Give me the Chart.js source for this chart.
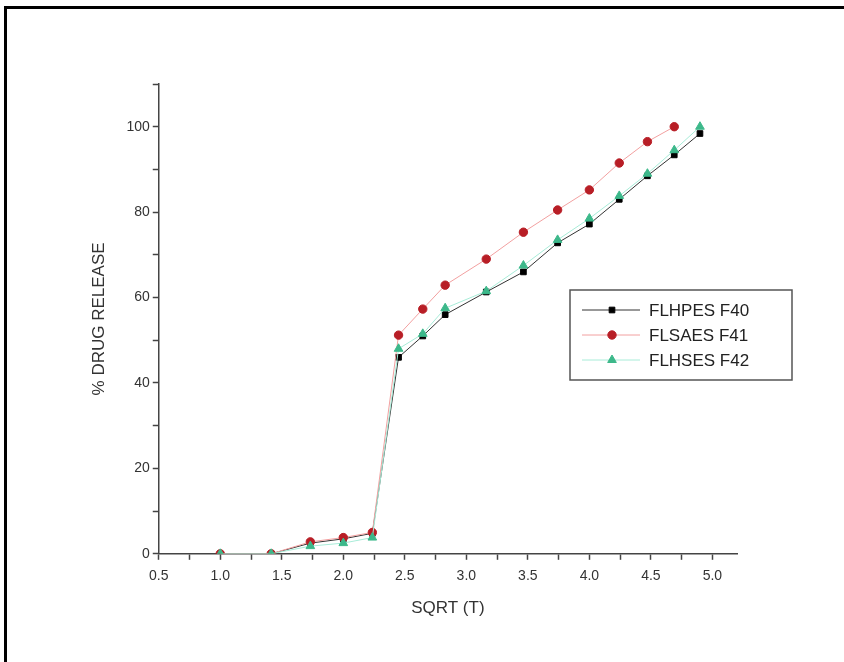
<!DOCTYPE html>
<html>
<head>
<meta charset="utf-8">
<script src="https://cdn.jsdelivr.net/npm/chart.js@4"></script>
<style>
  html, body { margin: 0; padding: 0; background: #fff; overflow: hidden; }
  #wrap { position: relative; width: 844px; height: 662px; }
  #frame { position: absolute; left: 4px; top: 6px; width: 900px; height: 700px;
           border-top: 3px solid #000; border-left: 3px solid #000; }
  canvas { position: absolute; left: 0; top: 0; }
</style>
</head>
<body>
<div id="wrap">
  <div id="frame"></div>
  <canvas id="myChart" width="844" height="662"></canvas>
</div>
<script>
// x = square root of time
var sqrtT = [1.0, 1.414, 1.732, 2.0, 2.236, 2.449, 2.646, 2.828, 3.162, 3.464, 3.742, 4.0, 4.243, 4.472, 4.690, 4.899];

var f40 = [0, 0, 2.5, 3.5, 4.8, 46, 51, 56, 61.3, 66, 72.8, 77.2, 83, 88.5, 93.4, 98.4];
var f41 = [0, 0, 2.8, 3.8, 5, 51.2, 57.3, 62.9, 69, 75.3, 80.5, 85.2, 91.5, 96.5, 100];
var f42 = [0, 0, 1.8, 2.5, 3.8, 48, 51.5, 57.5, 61.5, 67.5, 73.5, 78.5, 83.8, 89, 94.5, 100];

var seriesNames = ["FLHPES F40", "FLSAES F41", "FLHSES F42"];

function pts(ys) {
    return ys.map(function (y, i) { return { x: sqrtT[i], y: y }; });
}

// legend box drawn inside the plot like the original
var boxLegend = {
    id: 'boxLegend',
    afterDraw: function (chart) {
        var ctx = chart.ctx;
        var x0 = 570, y0 = 290, w = 222, h = 90;
        ctx.save();
        ctx.strokeStyle = '#555';
        ctx.lineWidth = 1.5;
        ctx.strokeRect(x0, y0, w, h);
        chart.data.datasets.forEach(function (ds, i) {
            var yy = y0 + 20 + i * 25;
            ctx.strokeStyle = ds.borderColor;
            ctx.lineWidth = 1;
            ctx.beginPath();
            ctx.moveTo(x0 + 12, yy);
            ctx.lineTo(x0 + 70, yy);
            ctx.stroke();
            ctx.fillStyle = ds.pointBackgroundColor;
            ctx.strokeStyle = ds.pointBorderColor;
            Chart.helpers.drawPoint(ctx, {
                pointStyle: ds.pointStyle,
                radius: ds.pointRadius,
                borderWidth: 1
            }, x0 + 42, yy);
            ctx.fillStyle = '#222';
            ctx.font = '17px "Liberation Sans", Arial, sans-serif';
            ctx.textBaseline = 'middle';
            ctx.fillText(ds.label, x0 + 79, yy + 1);
        });
        ctx.restore();
    }
};

function halfStep(v) {
    return Math.abs(v * 2 - Math.round(v * 2)) < 1e-6;
}

new Chart("myChart", {
    type: "line",
    data: {
        datasets: [
            {
                label: seriesNames[0],
                data: pts(f40),
                borderColor: "#333",
                borderWidth: 1,
                pointStyle: "rect",
                pointRadius: 4,
                pointBackgroundColor: "#000",
                pointBorderColor: "#000",
                order: 3
            },
            {
                label: seriesNames[1],
                data: pts(f41),
                borderColor: "#f2a0a0",
                borderWidth: 1,
                pointStyle: "circle",
                pointRadius: 4.2,
                pointBackgroundColor: "#b81e26",
                pointBorderColor: "#b81e26",
                order: 2
            },
            {
                label: seriesNames[2],
                data: pts(f42),
                borderColor: "#a8ecd8",
                borderWidth: 1,
                pointStyle: "triangle",
                pointRadius: 5,
                pointBackgroundColor: "#3cb88a",
                pointBorderColor: "#3cb88a",
                order: 1
            }
        ]
    },
    options: {
        responsive: false,
        animation: false,
        layout: { padding: { left: 85, right: 107, top: 84, bottom: 39 } },
        plugins: {
            legend: { display: false },
            tooltip: { enabled: false }
        },
        scales: {
            x: {
                type: "linear",
                min: 0.5,
                max: 5.2,
                border: { color: "#444", width: 1.5 },
                grid: { drawOnChartArea: false, tickLength: 6, tickColor: "#444", tickWidth: 1.5 },
                ticks: {
                    stepSize: 0.25,
                    includeBounds: false,
                    autoSkip: false,
                    padding: 8,
                    color: "#333",
                    font: { family: '"Liberation Sans", Arial, sans-serif', size: 14 },
                    maxRotation: 0,
                    callback: function (v) { return halfStep(v) ? v.toFixed(1) : ""; }
                },
                title: {
                    display: true,
                    text: "SQRT (T)",
                    color: "#333",
                    font: { family: '"Liberation Sans", Arial, sans-serif', size: 17 },
                    padding: { top: 6 }
                }
            },
            y: {
                type: "linear",
                min: 0,
                max: 110,
                border: { color: "#444", width: 1.5 },
                grid: { drawOnChartArea: false, tickLength: 6, tickColor: "#444", tickWidth: 1.5 },
                ticks: {
                    stepSize: 10,
                    autoSkip: false,
                    color: "#333",
                    font: { family: '"Liberation Sans", Arial, sans-serif', size: 14 },
                    callback: function (v) { return (v % 20 === 0 && v <= 100) ? v : ""; }
                },
                title: {
                    display: true,
                    text: "% DRUG RELEASE",
                    color: "#333",
                    font: { family: '"Liberation Sans", Arial, sans-serif', size: 17 },
                    padding: { bottom: 14 }
                }
            }
        }
    },
    plugins: [boxLegend]
});
</script>
</body>
</html>
